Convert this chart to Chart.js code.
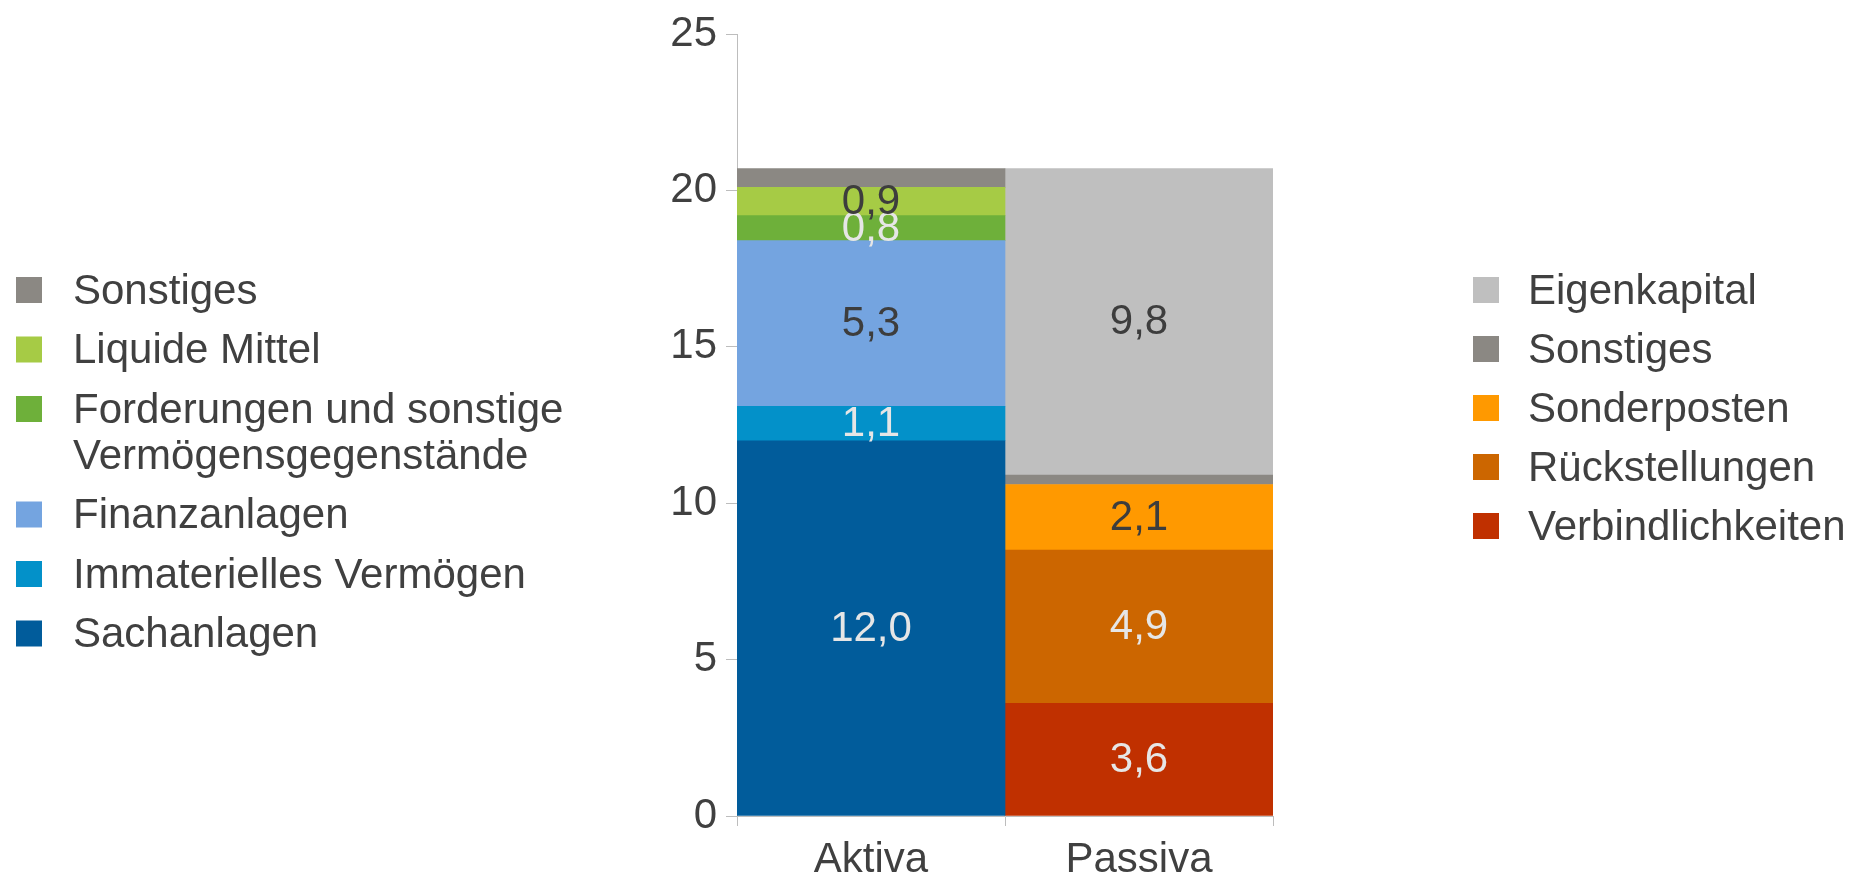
<!DOCTYPE html>
<html>
<head>
<meta charset="utf-8">
<script src="https://cdn.jsdelivr.net/npm/chart.js"></script>
<style>
  html, body { margin: 0; padding: 0; background: #ffffff; }
  #wrap { width: 1854px; height: 877px; position: relative; }
</style>
</head>
<body>
<div id="wrap"><canvas id="bilanzChart"></canvas></div>
<script>
// categories and values (Mrd. EUR)
var categories = ['Aktiva', 'Passiva'];

var aktivaLabels = ['Sachanlagen', 'Immaterielles Vermögen', 'Finanzanlagen',
    'Forderungen und sonstige Vermögensgegenstände', 'Liquide Mittel', 'Sonstiges'];
var aktivaValues = [12.0, 1.1, 5.3, 0.8, 0.9, 0.6];

var passivaLabels = ['Verbindlichkeiten', 'Rückstellungen', 'Sonderposten', 'Sonstiges', 'Eigenkapital'];
var passivaValues = [3.6, 4.9, 2.1, 0.3, 9.8];

var yTicks = [0, 5, 10, 15, 20, 25];

// styles
var aktivaColors = ['#015c9b', '#0391c9', '#74a4e0', '#6eb03a', '#a6cb45', '#8b8883'];
var aktivaTextColors = ['#e6e6e6', '#e6e6e6', '#3d3d3d', '#e6e6e6', '#3d3d3d', '#3d3d3d'];
var passivaColors = ['#c03000', '#cc6600', '#ff9900', '#8b8883', '#bfbfbf'];
var passivaTextColors = ['#e6e6e6', '#e6e6e6', '#3d3d3d', '#3d3d3d', '#3d3d3d'];

var TEXT = '#404040';
var AXIS = '#bdbdbd';
var SANS = "'Liberation Sans', Arial, sans-serif";

function buildDatasets() {
    var sets = [];
    aktivaLabels.forEach(function (lbl, i) {
        sets.push({
            label: lbl, side: 'Aktiva',
            data: [aktivaValues[i], null],
            backgroundColor: aktivaColors[i],
            textColor: aktivaTextColors[i]
        });
    });
    passivaLabels.forEach(function (lbl, i) {
        sets.push({
            label: lbl, side: 'Passiva',
            data: [null, passivaValues[i]],
            backgroundColor: passivaColors[i],
            textColor: passivaTextColors[i]
        });
    });
    sets.forEach(function (s) {
        s.borderWidth = 0;
        s.barPercentage = 1;
        s.categoryPercentage = 1;
    });
    return sets;
}

function wrapWords(ctx, txt, maxW) {
    var words = txt.split(' ');
    var lines = [];
    var cur = '';
    words.forEach(function (w) {
        var test = cur ? cur + ' ' + w : w;
        if (cur && ctx.measureText(test).width > maxW) {
            lines.push(cur);
            cur = w;
        } else {
            cur = test;
        }
    });
    if (cur) lines.push(cur);
    return lines;
}

// value labels inside the segments
var segmentLabels = {
    id: 'segmentLabels',
    afterDatasetsDraw: function (chart) {
        var ctx = chart.ctx;
        ctx.save();
        ctx.font = '42px ' + SANS;
        ctx.textBaseline = 'middle';
        ctx.textAlign = 'center';
        chart.data.datasets.forEach(function (ds, di) {
            var meta = chart.getDatasetMeta(di);
            meta.data.forEach(function (bar, idx) {
                var v = ds.data[idx];
                if (v === null || v < 0.7) return;
                ctx.fillStyle = ds.textColor;
                ctx.fillText(v.toFixed(1).replace('.', ','), bar.x, (bar.y + bar.base) / 2 + 1);
            });
        });
        ctx.restore();
    }
};

// two legends, Aktiva on the left, Passiva on the right
var sideLegends = {
    id: 'sideLegends',
    afterDraw: function (chart) {
        var ctx = chart.ctx;
        ctx.save();
        ctx.textBaseline = 'middle';
        ctx.textAlign = 'left';
        ctx.font = '42px ' + SANS;

        var left = chart.data.datasets.filter(function (d) { return d.side === 'Aktiva'; }).reverse();
        var y = 290;
        left.forEach(function (ds) {
            ctx.fillStyle = ds.backgroundColor;
            ctx.fillRect(16, y - 13, 26, 26);
            ctx.fillStyle = TEXT;
            var lines = wrapWords(ctx, ds.label, 520);
            lines.forEach(function (ln, k) {
                ctx.fillText(ln, 73, y + 2 + k * 46);
            });
            y += 59.5 + (lines.length - 1) * 46;
        });

        var right = chart.data.datasets.filter(function (d) { return d.side === 'Passiva'; }).reverse();
        y = 290;
        right.forEach(function (ds) {
            ctx.fillStyle = ds.backgroundColor;
            ctx.fillRect(1473, y - 13, 26, 26);
            ctx.fillStyle = TEXT;
            ctx.fillText(ds.label, 1528, y + 2);
            y += 59;
        });
        ctx.restore();
    }
};

document.addEventListener('DOMContentLoaded', function () {
    var bilanzCtx = document.getElementById('bilanzChart').getContext('2d');
    var bilanzChart = new Chart(bilanzCtx, {
        type: 'bar',
        data: {
            labels: categories,
            datasets: buildDatasets()
        },
        options: {
            responsive: true,
            maintainAspectRatio: false,
            animation: false,
            layout: { padding: { left: 637, right: 581, top: 28, bottom: 0 } },
            plugins: {
                legend: { display: false },
                tooltip: { enabled: false }
            },
            scales: {
                x: {
                    stacked: true,
                    offset: true,
                    grid: { offset: true, drawOnChartArea: false, drawTicks: true, tickLength: 10, color: AXIS },
                    border: { display: true, color: AXIS },
                    ticks: { color: TEXT, font: { family: SANS, size: 42 }, padding: 9 },
                    afterFit: function (scale) { scale.height = 61; }
                },
                y: {
                    stacked: true,
                    min: 0,
                    max: 25,
                    afterBuildTicks: function (scale) {
                        scale.ticks = yTicks.map(function (v) { return { value: v }; });
                    },
                    grid: { drawOnChartArea: false, drawTicks: true, tickLength: 11, color: AXIS },
                    border: { display: true, color: AXIS },
                    ticks: { color: TEXT, font: { family: SANS, size: 42 }, padding: 9 },
                    afterFit: function (scale) { scale.width = 100; }
                }
            }
        },
        plugins: [segmentLabels, sideLegends]
    });
});
</script>
</body>
</html>
